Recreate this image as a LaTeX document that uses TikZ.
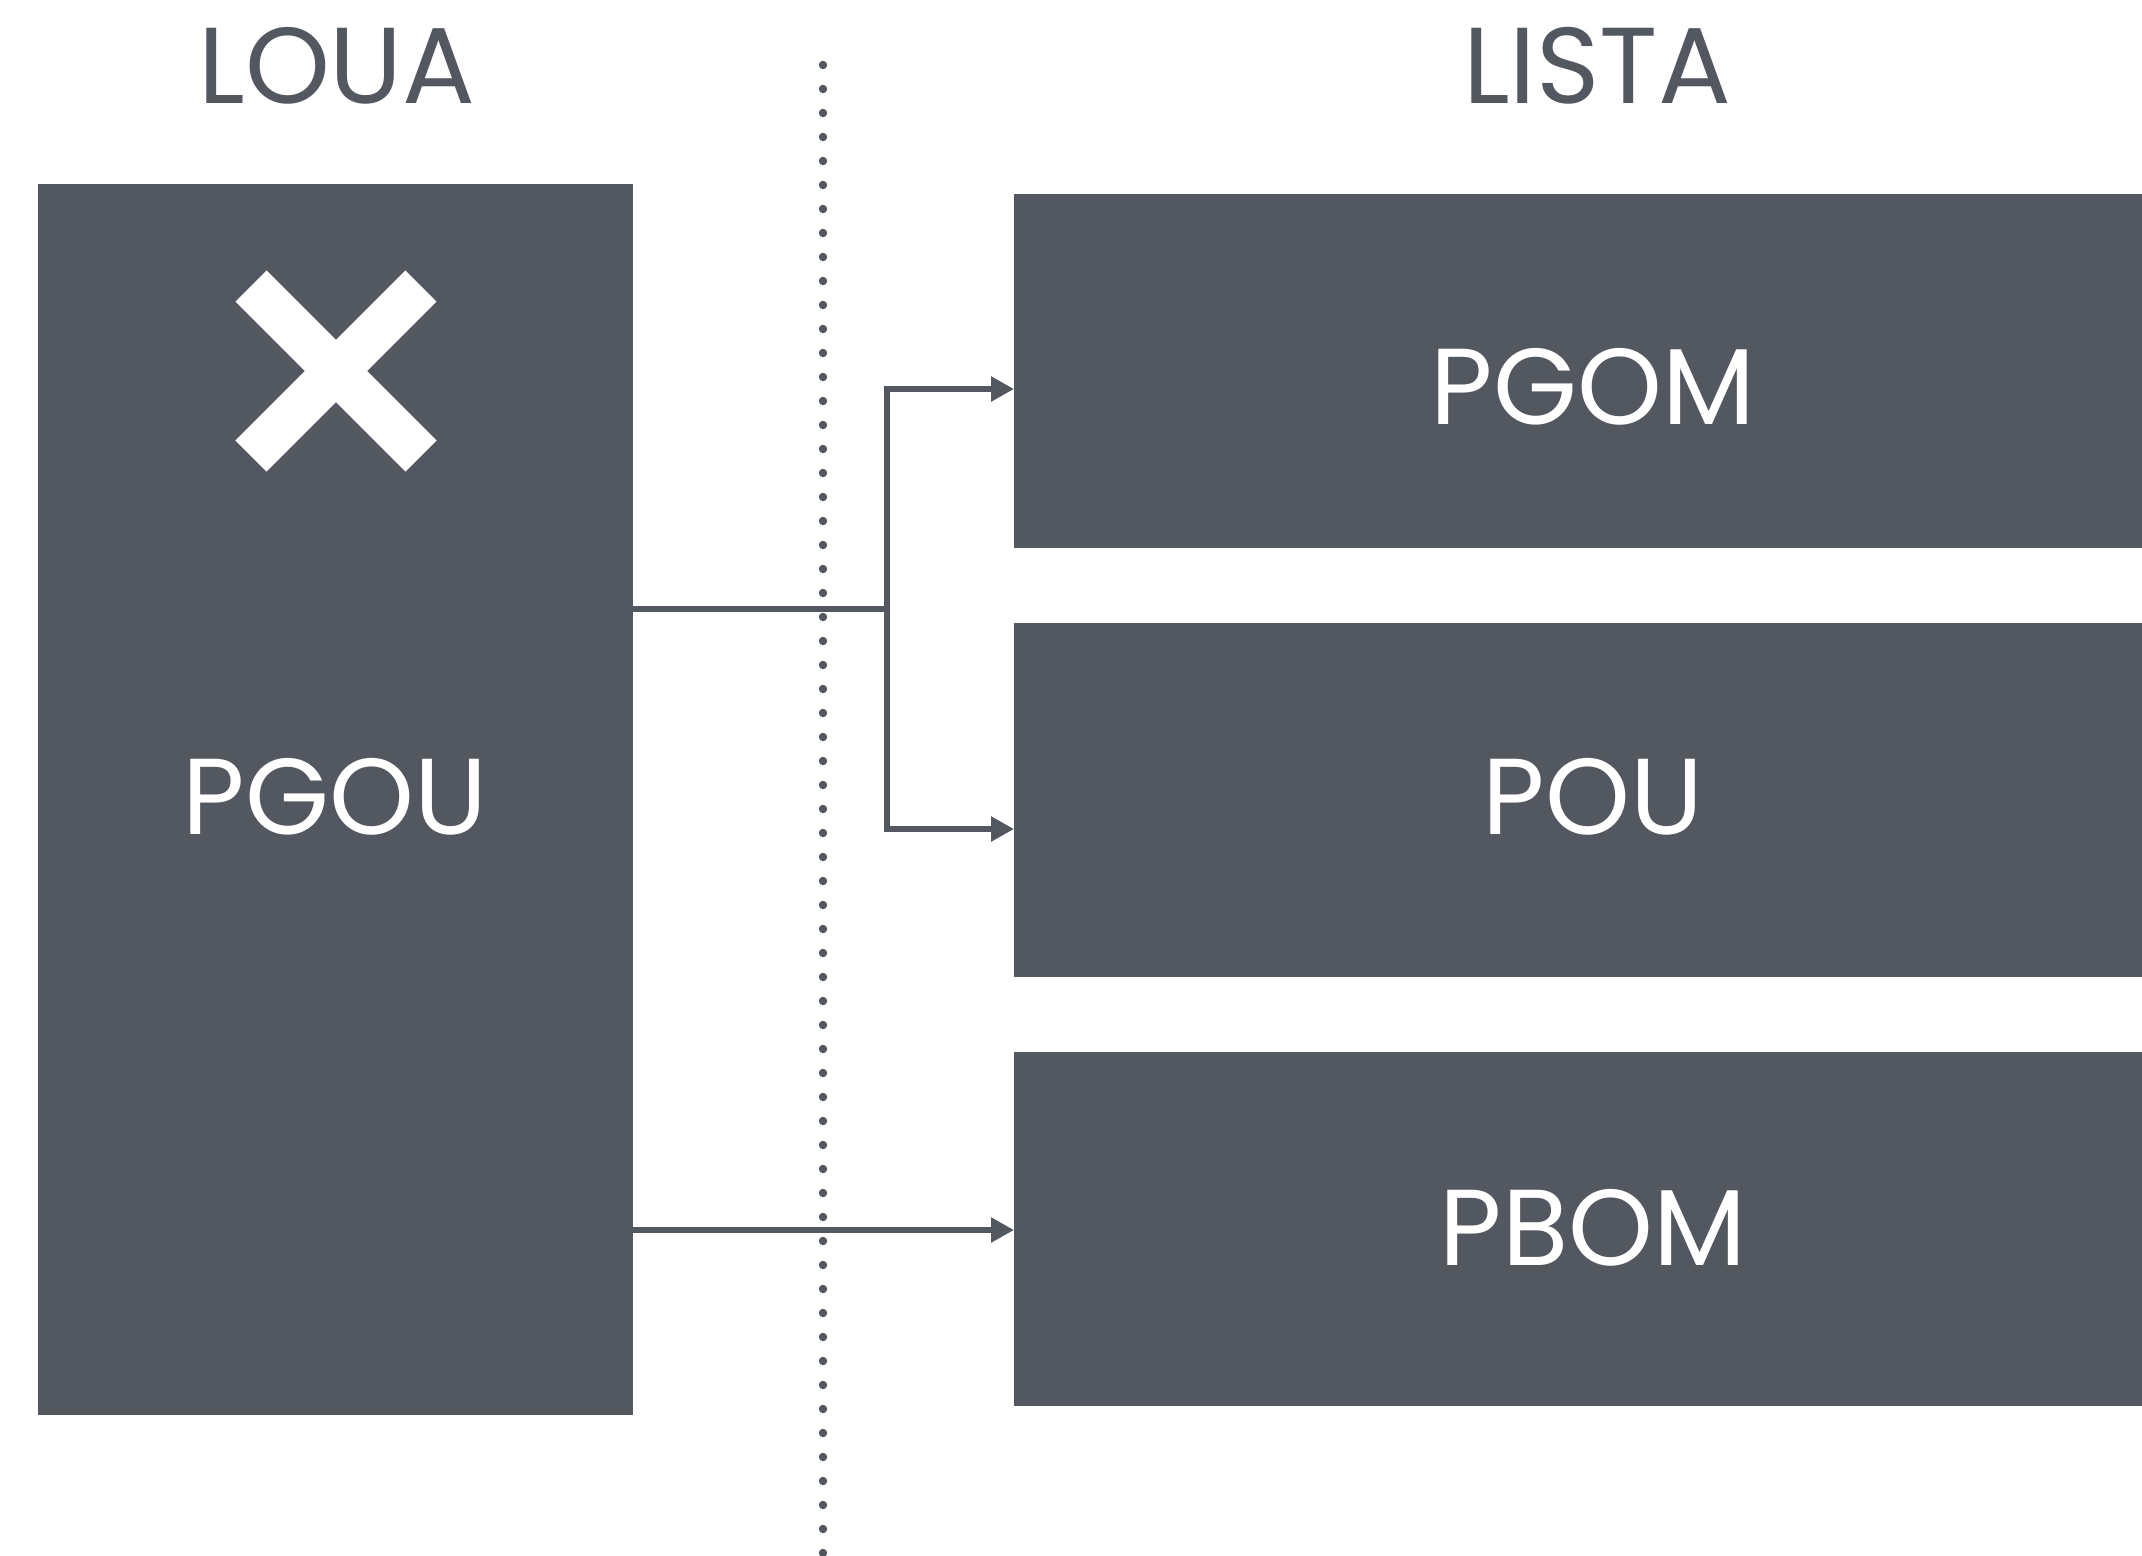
\documentclass[tikz,border=0pt]{standalone}
\usepackage{fontspec}
\setmainfont{Poppins}
\usetikzlibrary{arrows.meta}
\definecolor{slate}{RGB}{83,87,95}
\tikzset{
  box/.style={fill=slate, draw=none, inner sep=0pt, outer sep=0pt},
  boxlabel/.style={text=white, inner sep=0pt, font=\fontsize{54}{60}\selectfont},
  header/.style={text=slate, inner sep=0pt, font=\fontsize{54}{60}\selectfont},
  conn/.style={draw=slate, line width=2.75pt},
  arr/.style={conn, -{Triangle[length=11.5pt,width=12pt]}},
  dotmark/.style={fill=slate, draw=none},
}
\begin{document}
\begin{tikzpicture}[x=0.5pt,y=-0.5pt]
\useasboundingbox (0,0) rectangle (2142,1555);
% headers
\node[header] (hl) at (337,66) {LOUA};
\node[header] (hr) at (1597,66) {LISTA};
% left box
\node[box, minimum width=297.5pt, minimum height=615.5pt] (lbox) at (335.5,799.5) {};
\draw[white, line width=22pt] (336,371) ++(-85,-85) -- ++(170,170);
\draw[white, line width=22pt] (336,371) ++(85,-85) -- ++(-170,170);
\node[boxlabel] (lt) at (335,797) {PGOU};
% right boxes
\node[box, minimum width=564pt, minimum height=177pt] (b1) at (1578,371) {};
\node[box, minimum width=564pt, minimum height=177pt] (b2) at (1578,800) {};
\node[box, minimum width=564pt, minimum height=177pt] (b3) at (1578,1229) {};
\node[boxlabel] (t1) at (1593,387) {PGOM};
\node[boxlabel] (t2) at (1593,797) {POU};
\node[boxlabel] (t3) at (1593,1228) {PBOM};
% dotted divider
\foreach \k in {0,...,62} {
  \fill[dotmark] (823,65+24*\k) circle (2.1pt);
}
% connectors
\coordinate (j) at (887,609);
\coordinate (a1) at (1014,389);
\coordinate (a2) at (1014,829);
\coordinate (a3) at (1014,1230);
\draw[conn] (lbox.east |- j) -- (j);
\draw[arr] (j) |- (a1);
\draw[arr] (j) |- (a2);
\draw[arr] (lbox.east |- a3) -- (a3);
\end{tikzpicture}
\end{document}
